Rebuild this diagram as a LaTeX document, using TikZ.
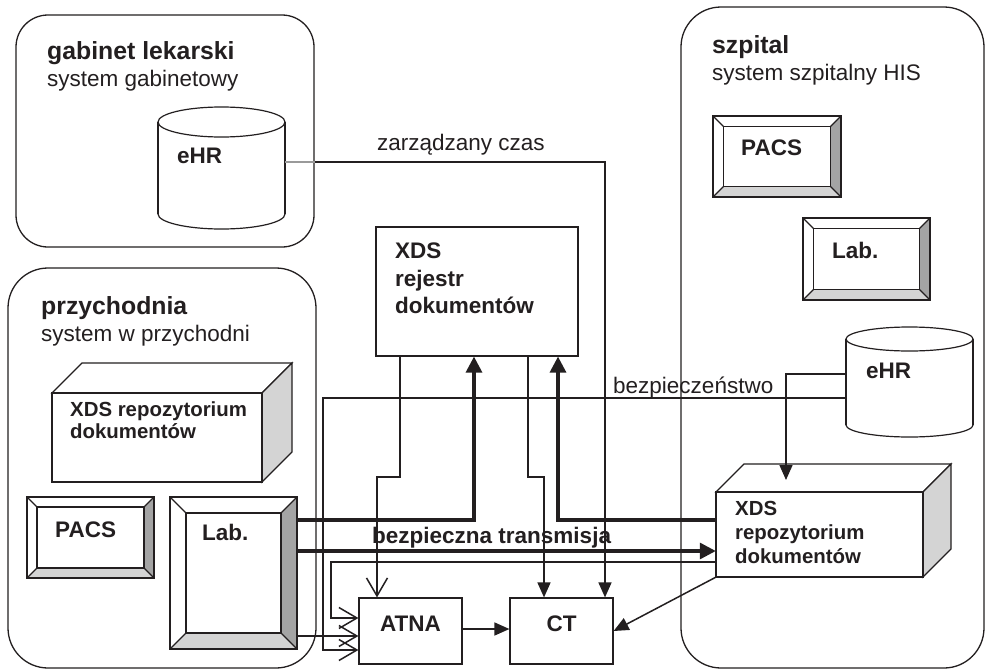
\documentclass[tikz,border=0pt]{standalone}
\usepackage{fontspec}
\setmainfont{Liberation Sans}
\usetikzlibrary{arrows.meta,fit}
\definecolor{ink}{HTML}{231F20}
\definecolor{lgray}{HTML}{D4D4D4}
\definecolor{dgray}{HTML}{A4A4A4}
\definecolor{lngray}{HTML}{9A9A9A}
\tikzset{
  comp/.style={draw=ink, line width=1.2pt},
  boxn/.style={comp, fill=white, inner sep=0pt},
  container/.style={draw=ink, line width=1.3pt, inner sep=0pt},
  ln/.style={draw=ink, line width=1.5pt},
  lnb/.style={draw=ink, line width=3.2pt},
  tri/.style={-{Triangle[length=15pt,width=13pt]}},
  trib/.style={-{Triangle[length=16pt,width=16pt]}},
  barb/.style={-{Straight Barb[length=18pt,width=21pt]}},
  txt/.style={inner sep=0pt, anchor=base west, text=ink, font=\fontsize{22.5}{26}\selectfont},
  bld/.style={txt, font=\fontsize{22.5}{26}\selectfont\bfseries},
  ttl/.style={txt, font=\fontsize{24.8}{28}\selectfont\bfseries},
  sml/.style={txt, font=\fontsize{20.4}{24}\selectfont\bfseries},
}
\newcommand\bevbox[6]{%
  \node[fit={(#2,#3)(#4,#5)},inner sep=0pt] (#1) {};
  \fill[lgray] (#2,#5) -- (#4,#5) -- (#4-#6,#5-#6) -- (#2+#6,#5-#6) -- cycle;
  \fill[dgray] (#4,#3) -- (#4,#5) -- (#4-#6,#5-#6) -- (#4-#6,#3+#6) -- cycle;
  \draw[comp] (#2,#3) rectangle (#4,#5);
  \draw[comp] (#2+#6,#3+#6) rectangle (#4-#6,#5-#6);
  \draw[comp] (#2,#3) -- (#2+#6,#3+#6) (#4,#3) -- (#4-#6,#3+#6)
              (#2,#5) -- (#2+#6,#5-#6) (#4,#5) -- (#4-#6,#5-#6);
}
\newcommand\cubebox[6]{%
  \node[fit={(#2,#3)(#4,#5)},inner sep=0pt] (#1) {};
  \draw[comp,fill=white] (#2,#3) -- (#2+#6,#3-#6) -- (#4+#6,#3-#6) -- (#4,#3) -- cycle;
  \draw[comp,fill=lgray] (#4,#3) -- (#4+#6,#3-#6) -- (#4+#6,#5-#6) -- (#4,#5) -- cycle;
  \draw[comp,fill=white] (#2,#3) rectangle (#4,#5);
}
\newcommand\cylbox[6]{%
  \draw[comp,fill=white] (#2,#5) ellipse [x radius=#3pt, y radius=#6pt];
  \fill[white] (#2-#3,#4) rectangle (#2+#3,#5);
  \draw[comp] (#2-#3,#4) -- (#2-#3,#5) (#2+#3,#4) -- (#2+#3,#5);
  \draw[comp,fill=white] (#2,#4) ellipse [x radius=#3pt, y radius=#6pt];
  \node[fit={(#2-#3,#4-#6)(#2+#3,#5+#6)},inner sep=0pt] (#1) {};
}
\begin{document}
\begin{tikzpicture}[x=1pt,y=-1pt]
\useasboundingbox (0,0) rectangle (988,672);
\fill[white] (0,0) rectangle (988,672);

% containers
\node[container, rounded corners=32pt, fit={(16,15)(314,247)}] (gab) {};
\node[container, rounded corners=40pt, fit={(8,268)(316,668)}] (prz) {};
\node[container, rounded corners=40pt, fit={(681,7)(984,668)}] (szp) {};

% components
\cylbox{ehrA}{221.5}{63.5}{122}{214}{15}
\cubebox{repoA}{52}{393}{262}{482}{30}
\bevbox{pacsA}{27}{497}{154}{578}{10}
\bevbox{labA}{170}{497}{297}{649}{16}
\node[boxn, fit={(376,227)(578,356)}] (rej) {};
\bevbox{pacsB}{713}{116}{841}{197}{10.5}
\bevbox{labB}{803}{218}{930}{300}{10.5}
\cylbox{ehrB}{909.5}{63.5}{339}{425}{12}
\cubebox{repoB}{716}{492}{923}{577}{28}
\node[boxn, fit={(359,598)(462,664)}] (atna) {};
\node[boxn, fit={(510,598)(613,664)}] (ct) {};

% helper levels
\coordinate (yA) at (0,162);
\coordinate (y477) at (0,477);
\coordinate (y520) at (0,520);
\coordinate (y551) at (0,551);
\coordinate (y398) at (0,398);
\coordinate (y562) at (0,562);
\coordinate (y618) at (0,618);
\coordinate (y636) at (0,636);
\coordinate (y650) at (0,650);
\coordinate (y629) at (0,629);
\coordinate (y631) at (0,631);
\coordinate (y374) at (0,374);
\coordinate (y480) at (0,480);
\coordinate (x605) at (605,0);
\coordinate (x400) at (400,0);
\coordinate (x377) at (377,0);
\coordinate (x528) at (528,0);
\coordinate (x544) at (544,0);
\coordinate (x474) at (474,0);
\coordinate (x558) at (558,0);
\coordinate (x323) at (323,0);
\coordinate (x331) at (331,0);
\coordinate (x786) at (786,0);

% connectors
\draw[ln, draw=lngray] (ehrA.east |- yA) -- (gab.east |- yA);
\draw[ln, tri] (gab.east |- yA) -| (x605 |- ct.north);
\draw[ln, barb] (x400 |- rej.south) -- (x400 |- y477) -| (x377 |- atna.north);
\draw[ln, tri] (x528 |- rej.south) -- (x528 |- y477) -| (x544 |- ct.north);
\draw[lnb, trib] (labA.east |- y520) -| (x474 |- rej.south);
\draw[lnb, trib] (repoB.west |- y520) -| (x558 |- rej.south);
\draw[lnb, trib] (labA.east |- y551) -- (repoB.west |- y551);
\draw[ln, barb] (ehrB.west |- y398) -| (x323 |- y650) -- (atna.west |- y650);
\draw[ln, barb] (repoB.west |- y562) -| (x331 |- y618) -- (atna.west |- y618);
\draw[ln, barb] (labA.east |- y636) -- (atna.west |- y636);
\draw[ln, tri] (atna.east |- y629) -- (ct.west |- y629);
\draw[ln, tri] (repoB.south west) -- (ct.east);
\draw[ln, tri] (ehrB.west |- y374) -| (x786 |- y480);

% texts
\node[ttl] (t1) at (47,59) {gabinet lekarski};
\node[txt] (t2) at (47,86) {system gabinetowy};
\node[ttl] (t3) at (41,314) {przychodnia};
\node[txt] (t4) at (41,341) {system w przychodni};
\node[ttl] (t5) at (712,53) {szpital};
\node[txt] (t6) at (712,80) {system szpitalny HIS};
\node[bld] (t7) at (177,163) {eHR};
\node[bld] (t8) at (866,378) {eHR};
\node[bld] (t9) at (395,258) {XDS};
\node[bld] (t10) at (395,286) {rejestr};
\node[bld] (t11) at (395,313) {dokumentów};
\node[sml] (t12) at (70,416) {XDS repozytorium};
\node[sml] (t13) at (70,438) {dokumentów};
\node[bld] (t14) at (55,537) {PACS};
\node[bld] (t15) at (202,540) {Lab.};
\node[bld] (t16) at (741,155) {PACS};
\node[bld] (t17) at (832,258) {Lab.};
\node[sml] (t18) at (735,515) {XDS};
\node[sml] (t19) at (735,539) {repozytorium};
\node[sml] (t20) at (735,563) {dokumentów};
\node[bld, anchor=base] (t21) at (atna.center |- y631) {ATNA};
\node[bld, anchor=base] (t22) at (ct.center |- y631) {CT};
\node[txt] (t23) at (377,150) {zarządzany czas};
\node[txt] (t24) at (613,393) {bezpieczeństwo};
\node[bld] (t25) at (372,543) {bezpieczna transmisja};
\end{tikzpicture}
\end{document}
